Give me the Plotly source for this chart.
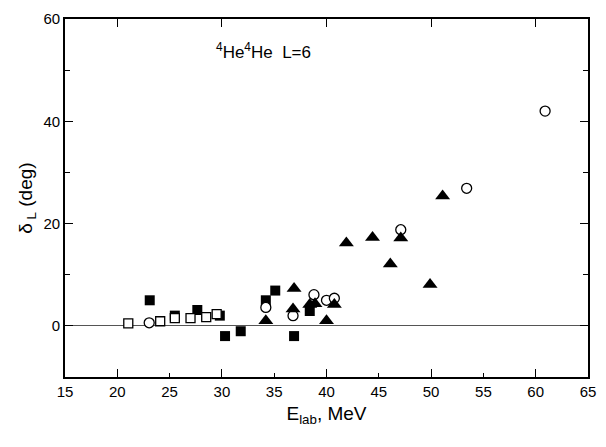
import plotly.graph_objects as go

# Phase-shift data, 4He-4He scattering, partial wave L=6
e_sq_filled = [23.1, 25.5, 27.65, 29.8, 30.3, 31.8, 34.2, 35.1, 36.9, 38.4]
d_sq_filled = [5.0, 2.0, 3.1, 2.0, -2.0, -1.05, 5.0, 6.9, -2.0, 2.9]

e_sq_open = [21.05, 24.1, 25.5, 27.0, 28.5, 29.5]
d_sq_open = [0.5, 0.9, 1.5, 1.5, 1.7, 2.3]

e_circ = [23.05, 34.2, 36.8, 38.8, 40.0, 40.75, 47.1, 53.4, 60.9]
d_circ = [0.6, 3.6, 2.0, 6.1, 5.0, 5.4, 18.8, 26.9, 42.0]

e_tri = [34.2, 36.9, 36.8, 38.4, 38.9, 40.0, 40.75, 41.9, 44.4, 46.1, 47.1, 49.9, 51.1]
d_tri = [1.0, 7.3, 3.3, 4.2, 4.3, 1.0, 4.2, 16.2, 17.3, 12.1, 17.2, 8.1, 25.4]

x_labels = [15, 20, 25, 30, 35, 40, 45, 50, 55, 60, 65]
x_major = [20, 30, 40, 50, 60]
y_labels = [0, 20, 40, 60]

FONT = "Liberation Sans, Arial, sans-serif"

fig = go.Figure()

fig.add_trace(go.Scatter(
    x=e_sq_filled, y=d_sq_filled, mode="markers",
    marker=dict(symbol="square", size=10, color="black", line=dict(width=0)),
))
fig.add_trace(go.Scatter(
    x=e_sq_open, y=d_sq_open, mode="markers",
    marker=dict(symbol="square", size=9, color="white", line=dict(width=1.3, color="black")),
))
fig.add_trace(go.Scatter(
    x=e_circ, y=d_circ, mode="markers",
    marker=dict(symbol="circle", size=10, color="white", line=dict(width=1.3, color="black")),
))
fig.add_trace(go.Scatter(
    x=e_tri, y=d_tri, mode="markers",
    marker=dict(symbol="triangle-up", size=13, color="black", line=dict(width=0)),
))
# invisible trace that carries the secondary x axis (long ticks)
fig.add_trace(go.Scatter(x=[15], y=[0], xaxis="x2", mode="markers",
                         marker=dict(opacity=0), hoverinfo="skip"))

fig.add_annotation(
    x=29.2, y=53.8, xref="x", yref="y", xanchor="left", yanchor="middle",
    text="<sup>4</sup>He<sup>4</sup>He  L=6", showarrow=False,
    font=dict(family=FONT, size=17, color="black"),
)

fig.update_layout(
    width=606, height=447,
    margin=dict(l=65, r=10, t=12, b=70),
    paper_bgcolor="white", plot_bgcolor="white",
    showlegend=False,
    font=dict(family=FONT, size=15, color="black"),
    xaxis=dict(
        range=[15, 65], tickvals=x_labels, ticktext=[str(v) for v in x_labels],
        ticks="inside", ticklen=4, tickwidth=1.3, tickcolor="black",
        showline=True, linecolor="black", linewidth=1.6, mirror=True,
        showgrid=False, zeroline=False,
        title=dict(text="E<sub>lab</sub>, MeV", font=dict(family=FONT, size=19), standoff=8),
    ),
    xaxis2=dict(
        range=[15, 65], overlaying="x", side="bottom", anchor="y",
        tickvals=x_major, showticklabels=False,
        ticks="inside", ticklen=8, tickwidth=1.3, tickcolor="black",
        showline=False, mirror="ticks", showgrid=False, zeroline=False,
    ),
    yaxis=dict(
        range=[-10, 60], tickvals=y_labels,
        ticks="inside", ticklen=8, tickwidth=1.3, tickcolor="black",
        minor=dict(dtick=10, tick0=0, ticks="inside", ticklen=5, tickwidth=1.3,
                   tickcolor="black", showgrid=False),
        showline=True, linecolor="black", linewidth=1.6, mirror="ticks",
        showgrid=False, zeroline=True, zerolinecolor="#555555", zerolinewidth=1,
        title=dict(text="δ<sub> L</sub> (deg)", font=dict(family=FONT, size=19), standoff=6),
    ),
)

fig.write_html("out.html")
